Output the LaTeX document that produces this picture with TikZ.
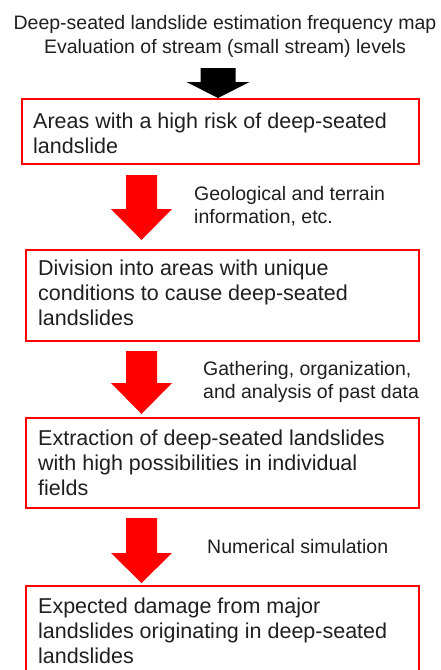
\documentclass[tikz,border=0pt]{standalone}
\usepackage{fontspec}
\setmainfont{Liberation Sans}
\usetikzlibrary{calc}
\definecolor{txt}{gray}{0.12}
\definecolor{boxred}{RGB}{255,0,0}
\newcommand{\fatarrow}[6]{%
  \fill[#1] let \p1=(#2), \p2=(#3) in
    (\x1-#4pt,\y1) -- (\x1+#4pt,\y1) -- (\x1+#4pt,\y2+#6pt) -- (\x1+#5pt,\y2+#6pt)
    -- (\x2,\y2) -- (\x1-#5pt,\y2+#6pt) -- (\x1-#4pt,\y2+#6pt) -- cycle;}
\begin{document}
\begin{tikzpicture}[x=1pt,y=1pt,
  box/.style={draw=boxred, line width=1.8pt, inner sep=0pt, outer sep=0pt, anchor=north west},
  boxtext/.style={anchor=north west, inner sep=0pt, align=left, text=txt,
    font=\fontsize{21.5}{25}\selectfont},
  labeltext/.style={anchor=north west, inner sep=0pt, align=left, text=txt,
    font=\fontsize{19.5}{23}\selectfont},
  titletext/.style={anchor=north, inner sep=0pt, align=center, text=txt,
    font=\fontsize{19.5}{24}\selectfont}]
\useasboundingbox (0,0) rectangle (441,-670);
\clip (0,0) rectangle (441,-670);
\fill[white] (0,0) rectangle (441,-670);

% title
\node[titletext] (title) at (225,-15) {Deep-seated landslide estimation frequency map\\Evaluation of stream (small stream) levels};

% boxes
\node[box, minimum width=397pt, minimum height=65pt] (b1) at (22,-99) {};
\node[box, minimum width=393pt, minimum height=91pt] (b2) at (26,-250) {};
\node[box, minimum width=393pt, minimum height=90pt] (b3) at (26,-418) {};
\node[box, minimum width=393pt, minimum height=92pt] (b4) at (26,-586) {};

% box texts
\node[boxtext] (t1) at (33,-112.6) {Areas with a high risk of deep-seated\\landslide};
\node[boxtext] (t2) at (38,-259.6) {Division into areas with unique\\conditions to cause deep-seated\\landslides};
\node[boxtext] (t3) at (38,-429.6) {Extraction of deep-seated landslides\\with high possibilities in individual\\fields};
\node[boxtext] (t4) at (38,-597.6) {Expected damage from major\\landslides originating in deep-seated\\landslides};

% labels
\node[labeltext] (l1) at (194,-186) {Geological and terrain\\information, etc.};
\node[labeltext] (l2) at (203,-361) {Gathering, organization,\\and analysis of past data};
\node[labeltext] (l3) at (207,-539) {Numerical simulation};

% arrow axes
\coordinate (bx) at (218,0);
\coordinate (ax) at (141.5,0);

\coordinate (k0) at ($(b1.north -| bx)+(0,31)$);
\coordinate (k1) at ($(b1.north -| bx)+(0,1)$);
\fatarrow{black}{k0}{k1}{17.5}{31.5}{16}

\coordinate (r1s) at ($(b1.south -| ax)+(0,-11)$);
\coordinate (r1e) at ($(b2.north -| ax)+(0,10)$);
\fatarrow{boxred}{r1s}{r1e}{15.5}{30.5}{31}

\coordinate (r2s) at ($(b2.south -| ax)+(0,-10)$);
\coordinate (r2e) at ($(b3.north -| ax)+(0,4)$);
\fatarrow{boxred}{r2s}{r2e}{15.5}{30.5}{31}

\coordinate (r3s) at ($(b3.south -| ax)+(0,-10)$);
\coordinate (r3e) at ($(b4.north -| ax)+(0,3)$);
\fatarrow{boxred}{r3s}{r3e}{15.5}{30.5}{30}
\end{tikzpicture}
\end{document}
